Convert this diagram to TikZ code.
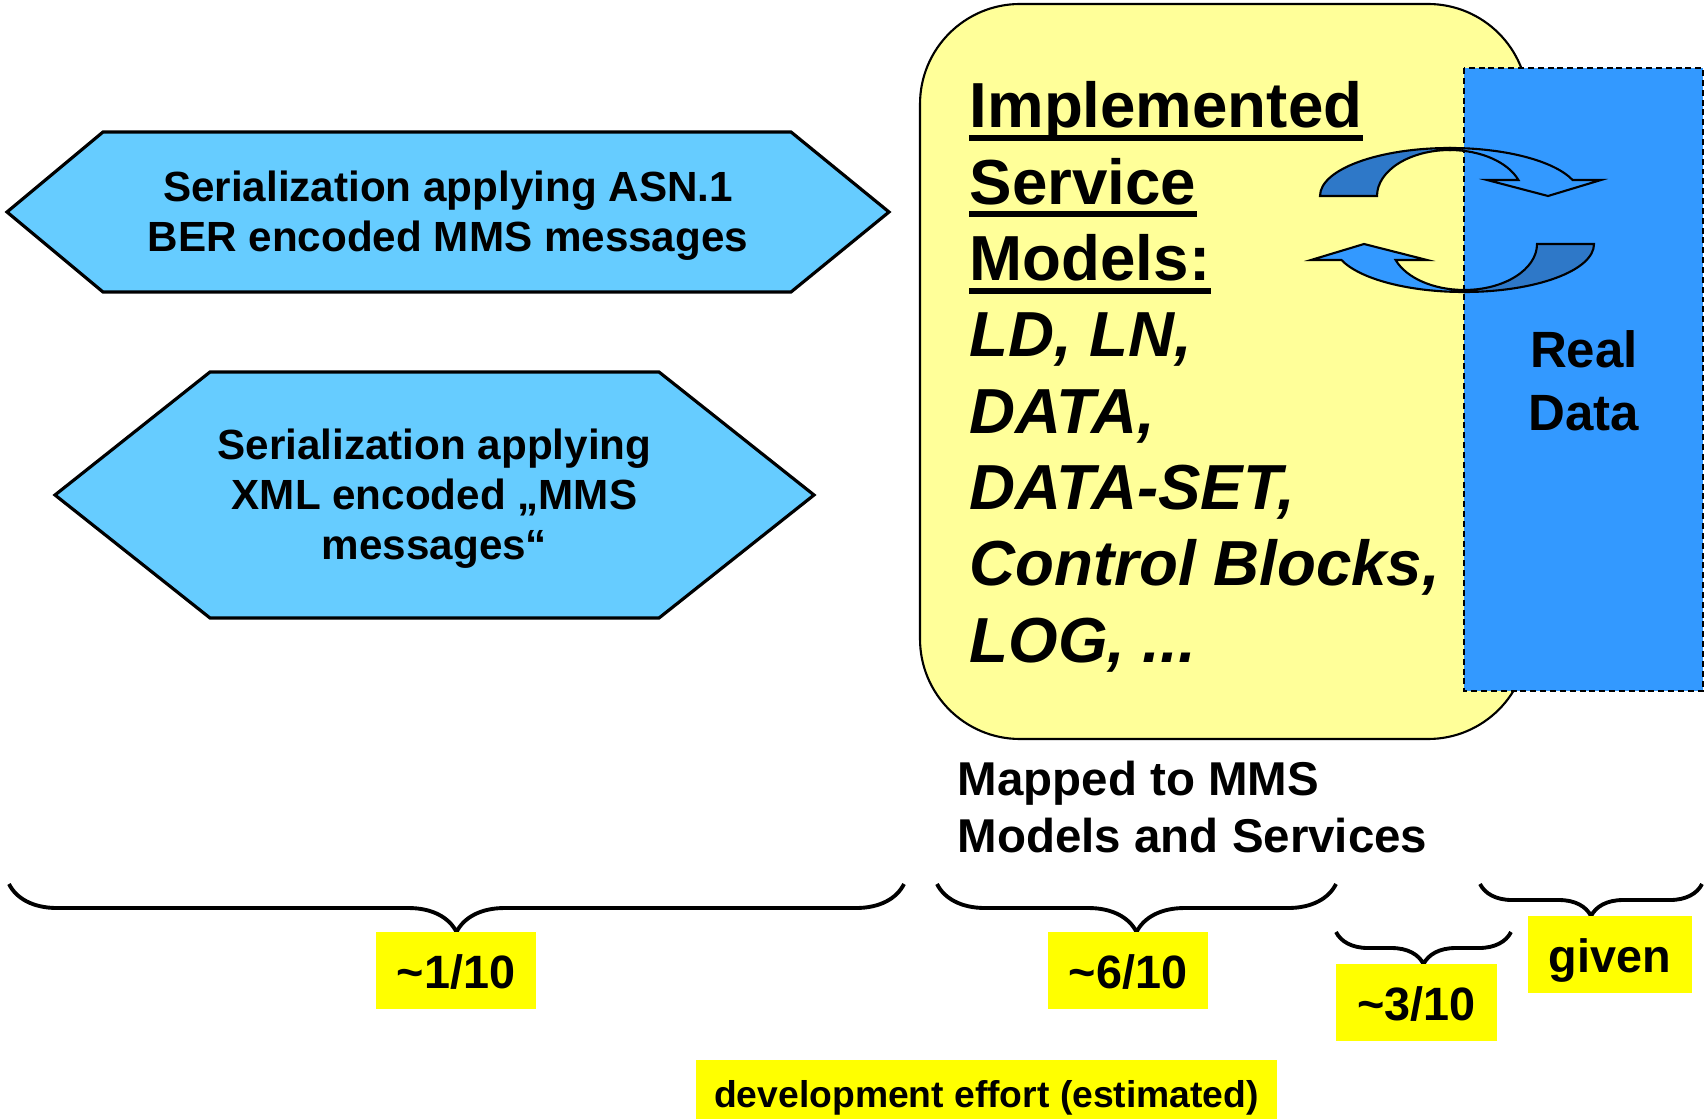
\documentclass[tikz,border=0pt]{standalone}
\usepackage{fontspec}
\setmainfont{Liberation Sans}
\usetikzlibrary{decorations.pathreplacing}

\definecolor{hexblue}{HTML}{66CCFF}
\definecolor{paleyellow}{HTML}{FFFF99}
\definecolor{realblue}{HTML}{3399FF}
\definecolor{darkblue}{HTML}{2E78C8}
\definecolor{tagyellow}{HTML}{FFFF00}

\begin{document}
\begin{tikzpicture}[x=0.01cm, y=-0.01cm,
    hexagon/.style={draw=black, line width=0.9pt, fill=hexblue},
    hextext/.style={align=center, inner sep=0pt, font=\fontsize{12}{14.3}\selectfont\bfseries},
    bigline/.style={anchor=base west, inner sep=0pt, font=\fontsize{18.1}{21.7}\selectfont\bfseries},
    effort/.style={fill=tagyellow, inner sep=0pt, text height=10.2pt, text depth=0pt, font=\fontsize{13.3}{16}\selectfont\bfseries},
    effortbrace/.style={decorate, decoration={brace, mirror, amplitude=#1}, line width=1.1pt},
    curvarrow/.style={draw=black, line width=0.6pt}]

    \useasboundingbox (0,0) rectangle (1704,1119);

    % Serialization variants
    \draw[hexagon] (7,212) -- (103,132) -- (791,132) -- (889,212) -- (791,292) -- (103,292) -- cycle;
    \node[hextext] (asn) at (448,216) {Serialization applying ASN.1\\BER encoded MMS messages};

    \draw[hexagon] (55,495) -- (210,372) -- (659,372) -- (814,495) -- (659,618) -- (210,618) -- cycle;
    \node[hextext] (xml) at (434.5,498.5) {Serialization applying\\XML encoded „MMS\\messages“};

    % Service models box and real data
    \draw[fill=paleyellow, line width=0.6pt, rounded corners=1cm] (920,4) rectangle (1528,739);
    \draw[fill=realblue, line width=0.6pt, dash pattern=on 1.7pt off 1.1pt] (1464,68) rectangle (1703,691);
    \node[align=center, inner sep=0pt, font=\fontsize{14.5}{17.9}\selectfont\bfseries] (real) at (1584,381) {Real\\Data};

    % Upper curved arrow
    \filldraw[curvarrow, fill=darkblue] (1320,196) arc[start angle=180, end angle=270, x radius=130, y radius=48]
        -- (1450,150) arc[start angle=270, end angle=180, x radius=73, y radius=46] -- cycle;
    \filldraw[curvarrow, fill=realblue] (1450,148) arc[start angle=270, end angle=340.5, x radius=130, y radius=48]
        -- (1601,180) -- (1548,196) -- (1487,180) -- (1518.4,180)
        arc[start angle=339.6, end angle=270, x radius=73, y radius=46] -- cycle;

    % Lower curved arrow
    \filldraw[curvarrow, fill=darkblue] (1594,244) arc[start angle=0, end angle=90, x radius=130, y radius=48]
        -- (1464,290) arc[start angle=90, end angle=0, x radius=73, y radius=46] -- cycle;
    \filldraw[curvarrow, fill=realblue] (1464,292) arc[start angle=90, end angle=160.5, x radius=130, y radius=48]
        -- (1311,260) -- (1364,244) -- (1427,260) -- (1395.6,260)
        arc[start angle=159.6, end angle=90, x radius=73, y radius=46] -- cycle;

    % Implemented service models
    \foreach \word [count=\i from 0] in {Implemented, Service, Models:}
        \node[bigline] (head\i) at (969,{128+76.3*\i}) {\word};
    \foreach \i in {0,1,2}
        \draw[line width=1.7pt] ([yshift=-2.85pt]head\i.base west) -- ([yshift=-2.85pt]head\i.base east);
    \foreach \word [count=\i from 3] in {{LD, LN,}, {DATA,}, {DATA-SET,}, {Control Blocks,}, {LOG, .{}.{}.}}
        \node[bigline, font=\fontsize{18.1}{21.7}\selectfont\bfseries\itshape] (model\i) at (969,{128+76.3*\i}) {\word};

    \node[anchor=west, align=left, inner sep=0pt, font=\fontsize{13.5}{16.2}\selectfont\bfseries] (mapped) at (957,807) {Mapped to MMS\\Models and Services};

    % Braces for development effort
    \draw[effortbrace=0.48cm] (9,884) -- (904,884);
    \draw[effortbrace=0.48cm] (937,884) -- (1336,884);
    \draw[effortbrace=0.32cm] (1336,932) -- (1511,932);
    \draw[effortbrace=0.32cm] (1480,884) -- (1702,884);

    \node[effort, minimum width=1.6cm, minimum height=0.77cm] (one) at (456,970.5) {\textasciitilde1/10};
    \node[effort, minimum width=1.6cm, minimum height=0.77cm] (six) at (1128,970.5) {\textasciitilde6/10};
    \node[effort, minimum width=1.61cm, minimum height=0.77cm] (three) at (1416.5,1002.5) {\textasciitilde3/10};
    \node[effort, minimum width=1.64cm, minimum height=0.77cm] (given) at (1610,954.5) {given};
    \node[effort, minimum width=5.81cm, minimum height=0.59cm, text height=10pt, font=\fontsize{10.6}{12}\selectfont\bfseries] (effort) at (986.5,1089.5) {development effort (estimated)};

\end{tikzpicture}
\end{document}
